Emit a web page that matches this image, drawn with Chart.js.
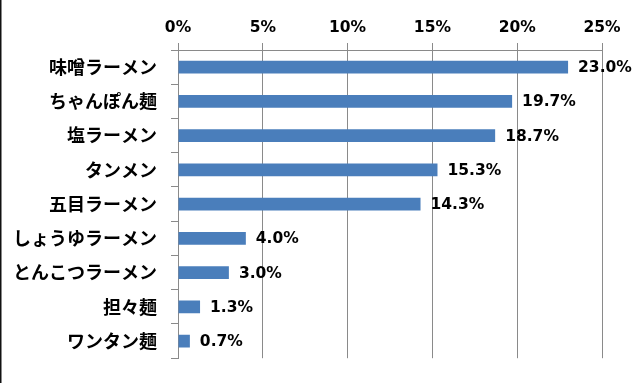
<!DOCTYPE html>
<html>
<head>
<meta charset="utf-8">
<script src="https://cdn.jsdelivr.net/npm/chart.js@4/dist/chart.umd.min.js"></script>
<style>
html,body{margin:0;padding:0;background:#fff;}
#wrap{width:640px;height:383px;position:relative;}
</style>
</head>
<body>
<div id="wrap"><canvas id="c" width="640" height="383"></canvas></div>
<script>
const categories = ["味噌ラーメン","ちゃんぽん麺","塩ラーメン","タンメン","五目ラーメン","しょうゆラーメン","とんこつラーメン","担々麺","ワンタン麺"];
const values = [23.0,19.7,18.7,15.3,14.3,4.0,3.0,1.3,0.7];
const tickValues = [0,5,10,15,20,25];

const NUM_FONT = "'DejaVu Sans',sans-serif";
const JP_FONT = "'Noto Sans CJK JP','Noto Sans',sans-serif";
const GRID = '#8a8a8a';

const valueLabels = {
  id:'valueLabels',
  afterDatasetsDraw(chart){
    const ctx = chart.ctx;
    const meta = chart.getDatasetMeta(0);
    ctx.save();
    ctx.font = "bold 15.5px " + NUM_FONT;
    ctx.fillStyle = '#000';
    ctx.textAlign = 'left';
    ctx.textBaseline = 'middle';
    meta.data.forEach((bar,i)=>{
      ctx.fillText(values[i].toFixed(1)+'%', bar.x + 10, bar.y + 1);
    });
    ctx.restore();
  }
};
const frame = {
  id:'frame',
  afterDraw(chart){
    const ctx = chart.ctx;
    ctx.save();
    ctx.fillStyle = '#111';
    ctx.fillRect(0,0,1.5,chart.height);
    ctx.restore();
  }
};

new Chart(document.getElementById('c'), {
  type:'bar',
  data:{
    labels: categories,
    datasets:[{
      data: values,
      backgroundColor:'#4a7ebb',
      borderColor:'#4a7ebb',
      borderWidth:0,
      barPercentage:0.37,
      categoryPercentage:1.0
    }]
  },
  options:{
    indexAxis:'y',
    responsive:false,
    animation:false,
    devicePixelRatio:1,
    layout:{padding:{left:0,top:0,right:38,bottom:20}},
    plugins:{legend:{display:false},tooltip:{enabled:false}},
    scales:{
      x:{
        position:'top',
        min:0,max:25,
        afterBuildTicks(scale){ scale.ticks = tickValues.map(v=>({value:v})); },
        afterFit(scale){ scale.height = 50; },
        grid:{color:GRID,lineWidth:1,tickLength:7,drawTicks:true},
        border:{display:true,color:GRID,width:1},
        ticks:{
          color:'#000',
          padding:6,
          font:{family:NUM_FONT,size:15.5,weight:'bold'},
          callback:(v)=>v+'%'
        }
      },
      y:{
        afterFit(scale){ scale.width = 178; },
        grid:{offset:true,drawOnChartArea:false,color:GRID,tickLength:7},
        border:{display:true,color:GRID,width:1},
        ticks:{
          color:'#000',
          padding:14,
          font:{family:JP_FONT,size:18,weight:'bold'}
        }
      }
    }
  },
  plugins:[valueLabels,frame]
});
</script>
</body>
</html>
